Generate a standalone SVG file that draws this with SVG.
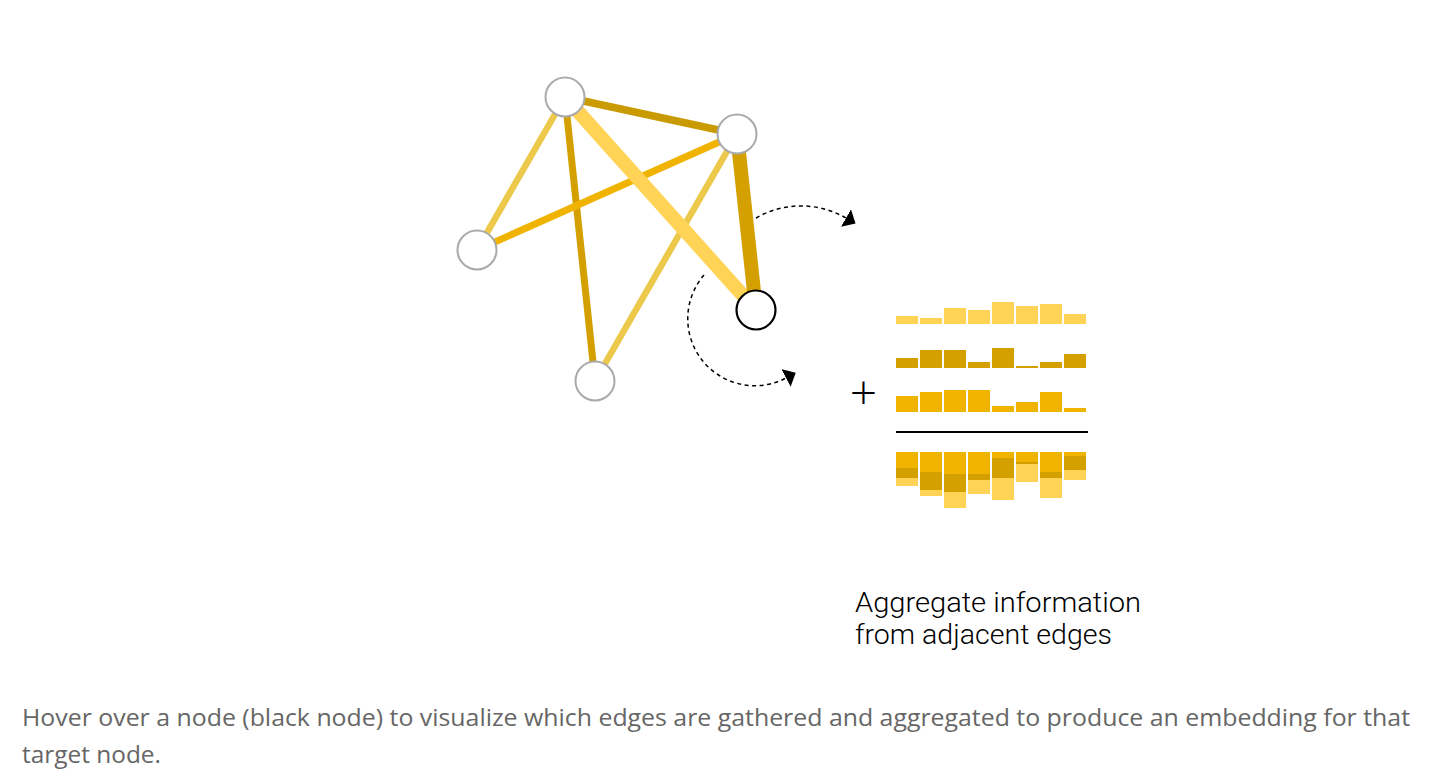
<svg xmlns="http://www.w3.org/2000/svg" width="1448" height="778" viewBox="0 0 1448 778">
  <style>
    .node { fill: #ffffff; stroke: #aaaaaa; stroke-width: 2; }
    .target { fill: #ffffff; stroke: #000000; stroke-width: 2.2; }
    .edge { fill: none; stroke-linecap: butt; }
    .arc { fill: none; stroke: #000000; stroke-width: 1.5; stroke-dasharray: 4 3.5; }
    .c1 { fill: #ffd355; }
    .c2 { fill: #d4a000; }
    .c3 { fill: #f0b400; }
    .label { font-family: Roboto, "Open Sans", "Liberation Sans", sans-serif; font-weight: 300; font-size: 27px; fill: #000000; }
    .caption { font-family: "Open Sans", "Liberation Sans", sans-serif; font-size: 23px; fill: #666666; }
  </style>
  <defs>
    <marker id="arrow" markerUnits="userSpaceOnUse" viewBox="0 -10 11 20" markerWidth="11" markerHeight="20" refX="0" refY="0" orient="auto">
      <path d="M0,-10L11,0L0,10z" fill="#000000"/>
    </marker>
  </defs>
  <rect x="0" y="0" width="1448" height="778" fill="#ffffff"/>

  <g id="connectors">
    <line id="edge-A-B" class="edge" x1="565" y1="97" x2="737" y2="134" stroke="#c99b00" stroke-width="7.5"/>
    <line id="edge-A-C" class="edge" x1="565" y1="97" x2="477" y2="250" stroke="#ecc94a" stroke-width="6.5"/>
    <line id="edge-A-D" class="edge" x1="565" y1="97" x2="595" y2="381" stroke="#d4a000" stroke-width="7"/>
    <line id="edge-B-C" class="edge" x1="737" y1="134" x2="477" y2="250" stroke="#f0b400" stroke-width="7"/>
    <line id="edge-B-D" class="edge" x1="737" y1="134" x2="595" y2="381" stroke="#ecc94a" stroke-width="6.5"/>
    <line id="edge-A-E" class="edge" x1="565" y1="97" x2="756" y2="310" stroke="#ffd355" stroke-width="14"/>
    <line id="edge-B-E" class="edge" x1="737" y1="134" x2="756" y2="310" stroke="#d4a000" stroke-width="14"/>
    <path id="arc-1" class="arc" d="M756,218 A90,90 0 0 1 846,218" marker-end="url(#arrow)"/>
    <path id="arc-2" class="arc" d="M704,275 A67,67 0 0 0 786,378" marker-end="url(#arrow)"/>
  </g>

  <g id="node-A"><circle class="node" cx="565" cy="97" r="19.5"/></g>
  <g id="node-B"><circle class="node" cx="737" cy="134" r="19.5"/></g>
  <g id="node-C"><circle class="node" cx="477" cy="250" r="19.5"/></g>
  <g id="node-D"><circle class="node" cx="595" cy="381" r="19.5"/></g>
  <g id="node-E"><circle class="target" cx="756" cy="310" r="19.5"/></g>

  <g id="bars-row1">
    <rect class="c1" x="896" y="316" width="22" height="8"/>
    <rect class="c1" x="920" y="318" width="22" height="6"/>
    <rect class="c1" x="944" y="308" width="22" height="16"/>
    <rect class="c1" x="968" y="310" width="22" height="14"/>
    <rect class="c1" x="992" y="302" width="22" height="22"/>
    <rect class="c1" x="1016" y="306" width="22" height="18"/>
    <rect class="c1" x="1040" y="304" width="22" height="20"/>
    <rect class="c1" x="1064" y="314" width="22" height="10"/>
  </g>
  <g id="bars-row2">
    <rect class="c2" x="896" y="358" width="22" height="10"/>
    <rect class="c2" x="920" y="350" width="22" height="18"/>
    <rect class="c2" x="944" y="350" width="22" height="18"/>
    <rect class="c2" x="968" y="362" width="22" height="6"/>
    <rect class="c2" x="992" y="348" width="22" height="20"/>
    <rect class="c2" x="1016" y="366" width="22" height="2"/>
    <rect class="c2" x="1040" y="362" width="22" height="6"/>
    <rect class="c2" x="1064" y="354" width="22" height="14"/>
  </g>
  <g id="bars-row3">
    <rect class="c3" x="896" y="396" width="22" height="16"/>
    <rect class="c3" x="920" y="392" width="22" height="20"/>
    <rect class="c3" x="944" y="390" width="22" height="22"/>
    <rect class="c3" x="968" y="390" width="22" height="22"/>
    <rect class="c3" x="992" y="406" width="22" height="6"/>
    <rect class="c3" x="1016" y="402" width="22" height="10"/>
    <rect class="c3" x="1040" y="392" width="22" height="20"/>
    <rect class="c3" x="1064" y="408" width="22" height="4"/>
  </g>
  <text id="plus" x="863.5" y="410" text-anchor="middle" style="font-family: 'Open Sans', 'Liberation Sans', sans-serif; font-weight: 300; font-size: 48px; fill: #000000;">+</text>
  <line id="sum-line" x1="896" y1="432" x2="1088" y2="432" stroke="#000000" stroke-width="2"/>
  <g id="bars-sum">
    <rect class="c3" x="896" y="452" width="22" height="16"/><rect class="c2" x="896" y="468" width="22" height="10"/><rect class="c1" x="896" y="478" width="22" height="8"/>
    <rect class="c3" x="920" y="452" width="22" height="20"/><rect class="c2" x="920" y="472" width="22" height="18"/><rect class="c1" x="920" y="490" width="22" height="6"/>
    <rect class="c3" x="944" y="452" width="22" height="22"/><rect class="c2" x="944" y="474" width="22" height="18"/><rect class="c1" x="944" y="492" width="22" height="16"/>
    <rect class="c3" x="968" y="452" width="22" height="22"/><rect class="c2" x="968" y="474" width="22" height="6"/><rect class="c1" x="968" y="480" width="22" height="14"/>
    <rect class="c3" x="992" y="452" width="22" height="6"/><rect class="c2" x="992" y="458" width="22" height="20"/><rect class="c1" x="992" y="478" width="22" height="22"/>
    <rect class="c3" x="1016" y="452" width="22" height="10"/><rect class="c2" x="1016" y="462" width="22" height="2"/><rect class="c1" x="1016" y="464" width="22" height="18"/>
    <rect class="c3" x="1040" y="452" width="22" height="20"/><rect class="c2" x="1040" y="472" width="22" height="6"/><rect class="c1" x="1040" y="478" width="22" height="20"/>
    <rect class="c3" x="1064" y="452" width="22" height="4"/><rect class="c2" x="1064" y="456" width="22" height="14"/><rect class="c1" x="1064" y="470" width="22" height="10"/>
  </g>

  <g id="label">
    <text class="label"><tspan x="855" y="611.5" textLength="286" lengthAdjust="spacingAndGlyphs">Aggregate information</tspan><tspan x="855" y="643.5" textLength="257" lengthAdjust="spacingAndGlyphs">from adjacent edges</tspan></text>
  </g>
  <g id="caption">
    <text class="caption"><tspan x="22" y="726" textLength="1388" lengthAdjust="spacingAndGlyphs">Hover over a node (black node) to visualize which edges are gathered and aggregated to produce an embedding for that</tspan><tspan x="22" y="763" textLength="139" lengthAdjust="spacingAndGlyphs">target node.</tspan></text>
  </g>
</svg>
